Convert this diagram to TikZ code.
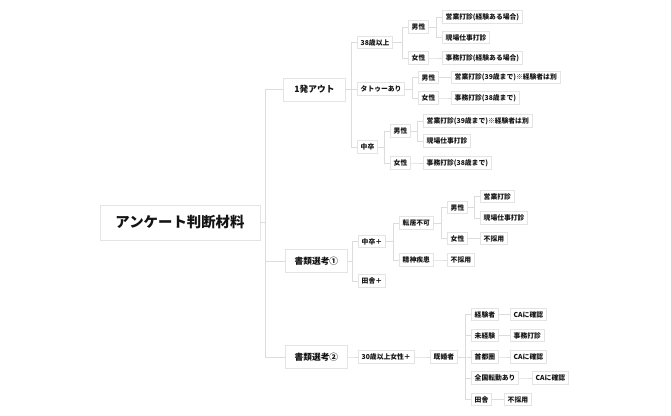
\documentclass[tikz,border=0pt]{standalone}
\usepackage{fontspec}
\IfFontExistsTF{Noto Sans CJK JP Black}
  {\setmainfont{Noto Sans CJK JP}[BoldFont={Noto Sans CJK JP Black}]}
  {\setmainfont{Noto Sans CJK JP}[BoldFont={* Bold}]}
\definecolor{boxc}{HTML}{E4E4E4}
\definecolor{linec}{HTML}{DCDCDC}
\definecolor{txt}{HTML}{141414}
\tikzset{
  bx/.style={draw=boxc, line width=0.8pt, fill=white, text=txt,
    font=\bfseries\fontsize{6.8}{7}\selectfont,
    inner xsep=3.3pt, inner ysep=0pt, minimum height=12.5pt, anchor=west},
  lone/.style={bx, font=\bfseries\fontsize{8.7}{10}\selectfont,
    minimum width=62pt, minimum height=23pt},
  rt/.style={bx, anchor=center, font=\bfseries\fontsize{14.4}{16}\selectfont,
    minimum width=160pt, minimum height=35pt},
  ln/.style={draw=linec, line width=0.8pt},
}
\newcommand\conn[2]{\draw[ln] (#1.east) -| ([xshift=-6pt]#2.west) -- (#2.west);}
\begin{document}
\begin{tikzpicture}[x=1pt,y=-1pt]
\useasboundingbox (0,0) rectangle (671,415);
% root
\node[rt] (r) at (180,222.5) {アンケート判断材料};
% level 1
\node[lone] (a) at (283,89.5) {1発アウト};
\node[lone] (b) at (285,261) {書類選考①};
\node[lone] (c) at (285,357) {書類選考②};
% 1発アウト
\node[bx] (a1) at (357,42.5) {38歳以上};
\node[bx] (a2) at (357,89) {タトゥーあり};
\node[bx] (a3) at (357,147) {中卒};
\node[bx] (a11) at (408,27) {男性};
\node[bx] (a12) at (408,58) {女性};
\node[bx] (a111) at (442,17) {営業打診(経験ある場合)};
\node[bx] (a112) at (442,37.5) {現場仕事打診};
\node[bx] (a121) at (442,58) {事務打診(経験ある場合)};
\node[bx] (a21) at (418,77.5) {男性};
\node[bx] (a22) at (418,98) {女性};
\node[bx] (a211) at (451,77.5) {営業打診(39歳まで)※経験者は別};
\node[bx] (a221) at (451,98) {事務打診(38歳まで)};
\node[bx] (a31) at (390,131) {男性};
\node[bx] (a32) at (390,163) {女性};
\node[bx] (a311) at (423,121) {営業打診(39歳まで)※経験者は別};
\node[bx] (a312) at (423,141) {現場仕事打診};
\node[bx] (a321) at (423,163) {事務打診(38歳まで)};
% 書類選考①
\node[bx] (b1) at (358,241.5) {中卒＋};
\node[bx] (b2) at (358,281) {田舎＋};
\node[bx] (b11) at (399,223) {転居不可};
\node[bx] (b12) at (399,260) {精神疾患};
\node[bx] (b111) at (447,207.5) {男性};
\node[bx] (b112) at (447,238.5) {女性};
\node[bx] (b1111) at (480,196.5) {営業打診};
\node[bx] (b1112) at (480,218) {現場仕事打診};
\node[bx] (b1121) at (480,238.5) {不採用};
\node[bx] (b121) at (447,260) {不採用};
% 書類選考②
\node[bx] (c1) at (358,357) {30歳以上女性＋};
\node[bx] (c11) at (430,357) {既婚者};
\node[bx] (c111) at (471,314.5) {経験者};
\node[bx] (c112) at (471,335.5) {未経験};
\node[bx] (c113) at (471,357) {首都圏};
\node[bx] (c114) at (471,378) {全国転勤あり};
\node[bx] (c115) at (471,399.5) {田舎};
\node[bx] (c1111) at (510,314.5) {CAに確認};
\node[bx] (c1121) at (510,335.5) {事務打診};
\node[bx] (c1131) at (510,357) {CAに確認};
\node[bx] (c1141) at (532,378) {CAに確認};
\node[bx] (c1151) at (504,399.5) {不採用};
% connectors
\foreach \ch in {a,b,c} {\draw[ln] (r.east) -- ++(5,0) |- (\ch.west);}
\conn{a}{a1}\conn{a}{a2}\conn{a}{a3}
\conn{a1}{a11}\conn{a1}{a12}
\conn{a11}{a111}\conn{a11}{a112}
\conn{a12}{a121}
\conn{a2}{a21}\conn{a2}{a22}
\conn{a21}{a211}\conn{a22}{a221}
\conn{a3}{a31}\conn{a3}{a32}
\conn{a31}{a311}\conn{a31}{a312}
\conn{a32}{a321}
\conn{b}{b1}\conn{b}{b2}
\conn{b1}{b11}\conn{b1}{b12}
\conn{b11}{b111}\conn{b11}{b112}
\conn{b111}{b1111}\conn{b111}{b1112}
\conn{b112}{b1121}
\conn{b12}{b121}
\conn{c}{c1}\conn{c1}{c11}
\conn{c11}{c111}\conn{c11}{c112}\conn{c11}{c113}\conn{c11}{c114}\conn{c11}{c115}
\conn{c111}{c1111}\conn{c112}{c1121}\conn{c113}{c1131}\conn{c114}{c1141}\conn{c115}{c1151}
\end{tikzpicture}
\end{document}
